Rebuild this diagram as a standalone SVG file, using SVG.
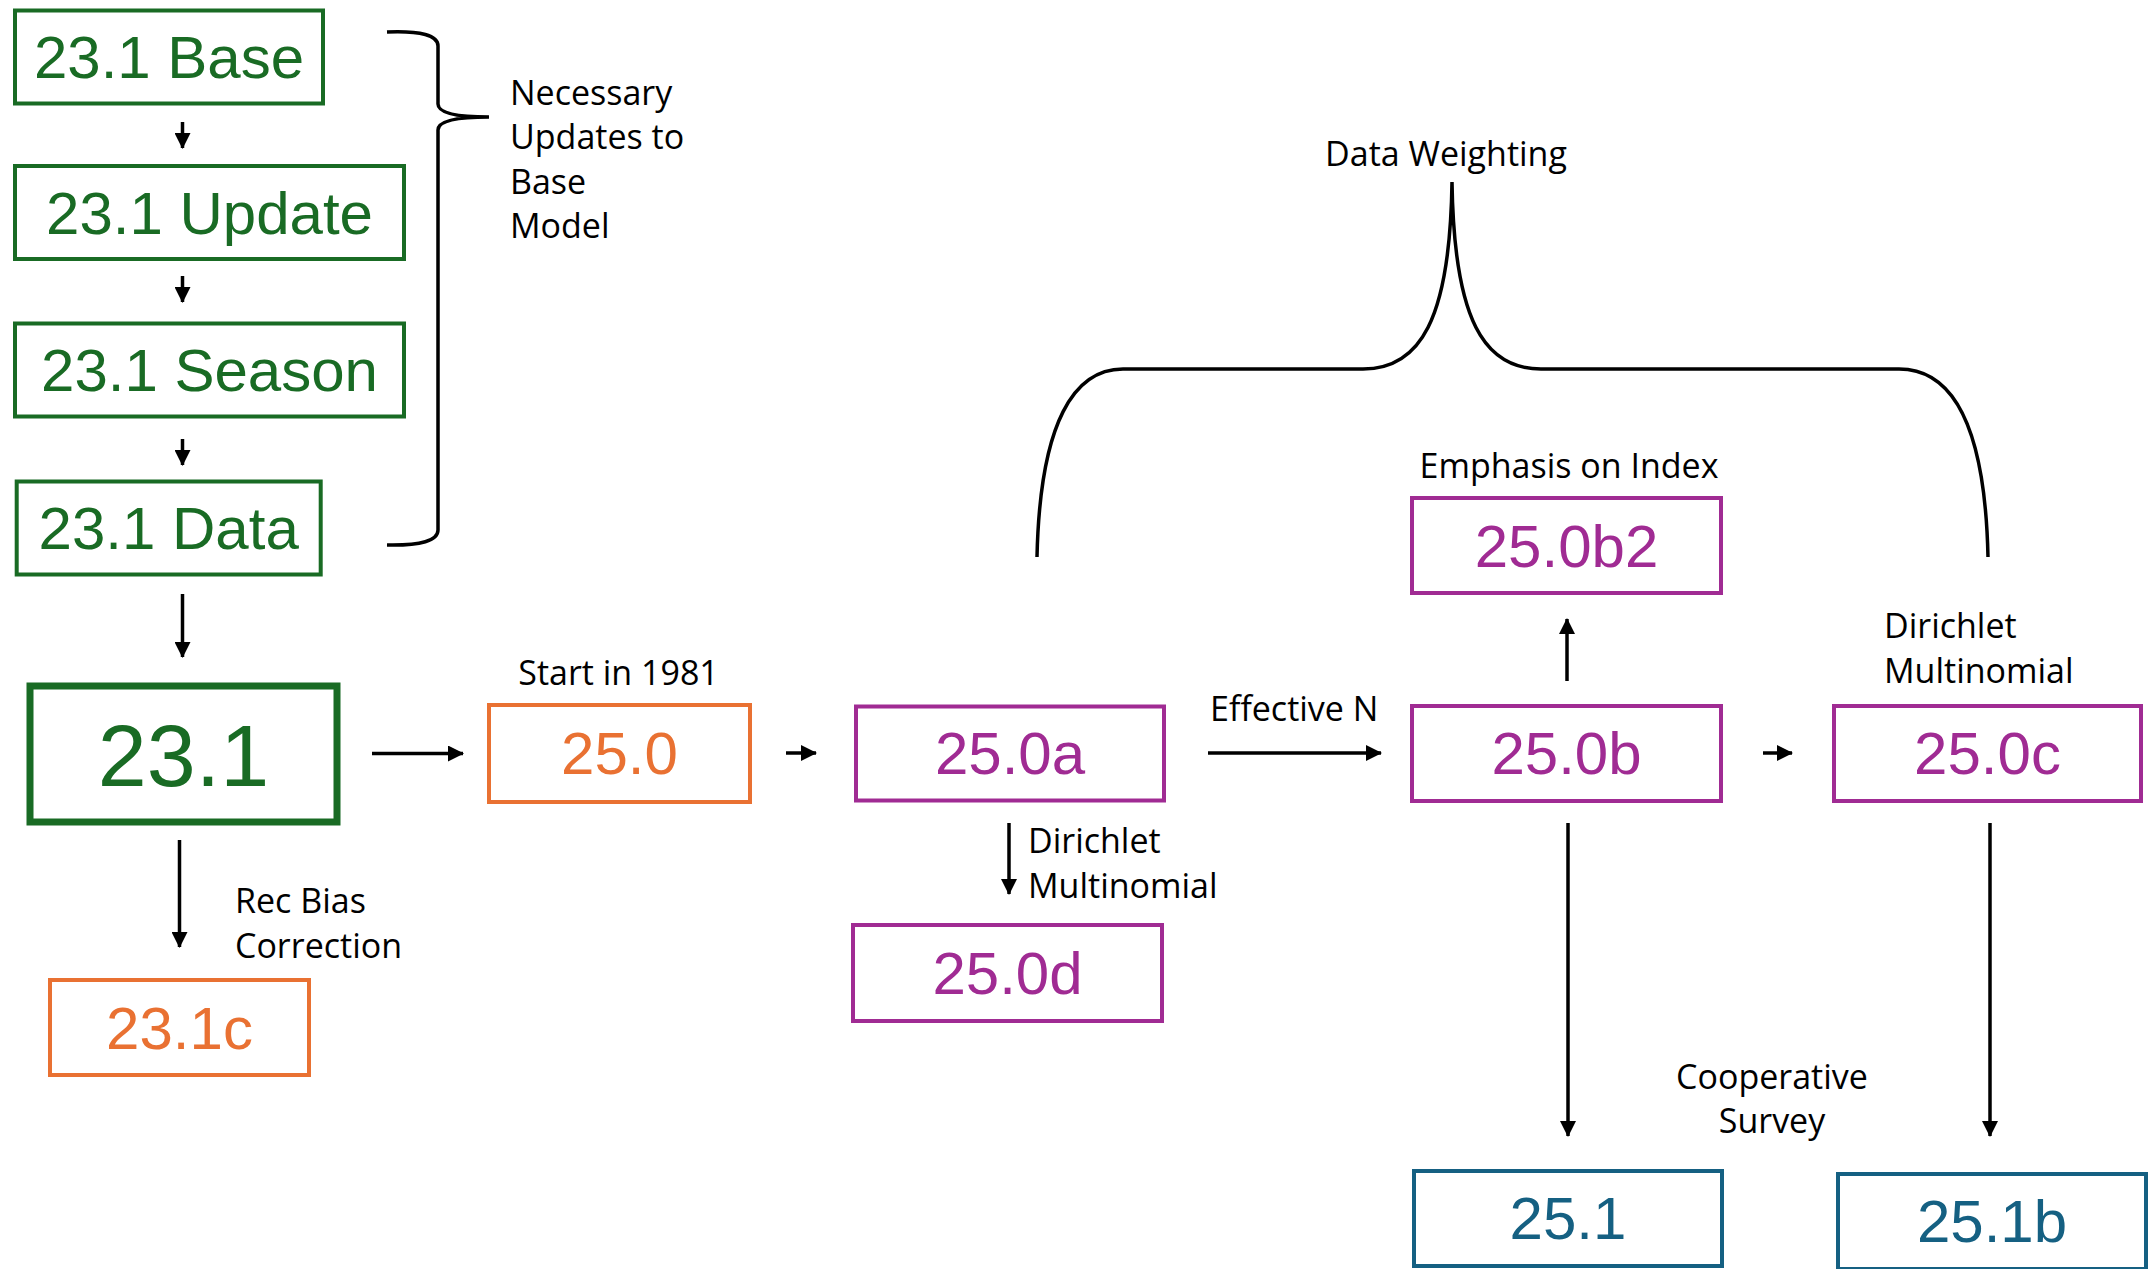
<svg xmlns="http://www.w3.org/2000/svg" width="2151" height="1269" viewBox="0 0 2151 1269">
<style>
.box{fill:#fff;stroke-width:4}
.g{stroke:#196B24}
.o{stroke:#E97132}
.p{stroke:#A02B93}
.b{stroke:#156082}
.lbl{font-family:"Liberation Sans",Arial,sans-serif;font-size:60px;text-anchor:middle}
.tg{fill:#196B24}
.to{fill:#E97132}
.tp{fill:#A02B93}
.tb{fill:#156082}
.note{font-family:"Open Sans","Noto Sans",sans-serif;font-size:34px;fill:#000}
.ar{stroke:#000;stroke-width:3.5;fill:none;marker-end:url(#ah)}
.br{stroke:#000;stroke-width:3.5;fill:none}
</style>
<defs>
<marker id="ah" markerUnits="userSpaceOnUse" markerWidth="16" markerHeight="16" viewBox="0 0 16 16" refX="15" refY="8" orient="auto">
<path d="M0 0 L16 8 L0 16 Z" fill="#000"/>
</marker>
</defs>
<rect width="2151" height="1269" fill="#fff"/>

<g id="connectors">
<line class="ar" x1="182.5" y1="122" x2="182.5" y2="148"/>
<line class="ar" x1="182.5" y1="276" x2="182.5" y2="302"/>
<line class="ar" x1="182.5" y1="439" x2="182.5" y2="465"/>
<line class="ar" x1="182.5" y1="594" x2="182.5" y2="657"/>
<line class="ar" x1="372" y1="753.5" x2="463" y2="753.5"/>
<line class="ar" x1="179.5" y1="840" x2="179.5" y2="947"/>
<line class="ar" x1="786" y1="753" x2="816" y2="753"/>
<line class="ar" x1="1208" y1="753" x2="1381" y2="753"/>
<line class="ar" x1="1567" y1="681" x2="1567" y2="619"/>
<line class="ar" x1="1763" y1="753" x2="1792" y2="753"/>
<line class="ar" x1="1009" y1="823" x2="1009" y2="894"/>
<line class="ar" x1="1568" y1="823" x2="1568" y2="1136"/>
<line class="ar" x1="1990" y1="823" x2="1990" y2="1136"/>
<path class="br" d="M387 32 Q438 30 438 46 L438 104 Q438 117 489 117 M489 117 Q438 117 438 130 L438 530 Q438 546 387 545"/>
<path class="br" d="M1037 557 C1040 420 1075 369 1123 369 L1363 369 C1420 369 1450 320 1452 182 C1454 320 1484 369 1541 369 L1899 369 C1950 369 1985 420 1988 557"/>
</g>

<g id="n-231base"><rect class="box g" x="15" y="10.5" width="308" height="93"/><text class="lbl tg" x="169" y="78">23.1 Base</text></g>
<g id="n-231update"><rect class="box g" x="15" y="166" width="389" height="93"/><text class="lbl tg" x="209.5" y="233.5">23.1 Update</text></g>
<g id="n-231season"><rect class="box g" x="15" y="323.5" width="389" height="93"/><text class="lbl tg" x="209.5" y="391">23.1 Season</text></g>
<g id="n-231data"><rect class="box g" x="16.7" y="481.5" width="304" height="93"/><text class="lbl tg" x="168.7" y="549">23.1 Data</text></g>
<g id="n-231"><rect class="box g" x="30" y="686" width="307" height="136" style="stroke-width:7"/><text class="lbl tg" x="183.5" y="786" style="font-size:88px">23.1</text></g>
<g id="n-231c"><rect class="box o" x="50" y="980" width="259" height="95"/><text class="lbl to" x="179.5" y="1049">23.1c</text></g>
<g id="n-250"><rect class="box o" x="489" y="705" width="261" height="97"/><text class="lbl to" x="619.5" y="774">25.0</text></g>
<g id="n-250a"><rect class="box p" x="856" y="706.5" width="308" height="94"/><text class="lbl tp" x="1010" y="774">25.0a</text></g>
<g id="n-250b"><rect class="box p" x="1412" y="706" width="309" height="95"/><text class="lbl tp" x="1566.5" y="774">25.0b</text></g>
<g id="n-250b2"><rect class="box p" x="1412" y="498" width="309" height="95"/><text class="lbl tp" x="1566.5" y="567">25.0b2</text></g>
<g id="n-250c"><rect class="box p" x="1834" y="706" width="307" height="95"/><text class="lbl tp" x="1987.5" y="774">25.0c</text></g>
<g id="n-250d"><rect class="box p" x="853" y="925" width="309" height="96"/><text class="lbl tp" x="1007.5" y="994">25.0d</text></g>
<g id="n-251"><rect class="box b" x="1414" y="1171" width="308" height="95"/><text class="lbl tb" x="1568" y="1239">25.1</text></g>
<g id="n-251b"><rect class="box b" x="1838" y="1174" width="308" height="95"/><text class="lbl tb" x="1992" y="1242">25.1b</text></g>

<g id="labels">
<text class="note" x="510" y="105">Necessary</text>
<text class="note" x="510" y="149">Updates to</text>
<text class="note" x="510" y="194">Base</text>
<text class="note" x="510" y="238">Model</text>
<text class="note" x="1446" y="166" text-anchor="middle">Data Weighting</text>
<text class="note" x="1569" y="478" text-anchor="middle">Emphasis on Index</text>
<text class="note" x="618.5" y="685" text-anchor="middle">Start in 1981</text>
<text class="note" x="1210" y="721">Effective N</text>
<text class="note" x="1884" y="638">Dirichlet</text>
<text class="note" x="1884" y="683">Multinomial</text>
<text class="note" x="1028" y="853">Dirichlet</text>
<text class="note" x="1028" y="898">Multinomial</text>
<text class="note" x="235" y="913">Rec Bias</text>
<text class="note" x="235" y="958">Correction</text>
<text class="note" x="1772" y="1089" text-anchor="middle">Cooperative</text>
<text class="note" x="1772" y="1133" text-anchor="middle">Survey</text>
</g>
</svg>
